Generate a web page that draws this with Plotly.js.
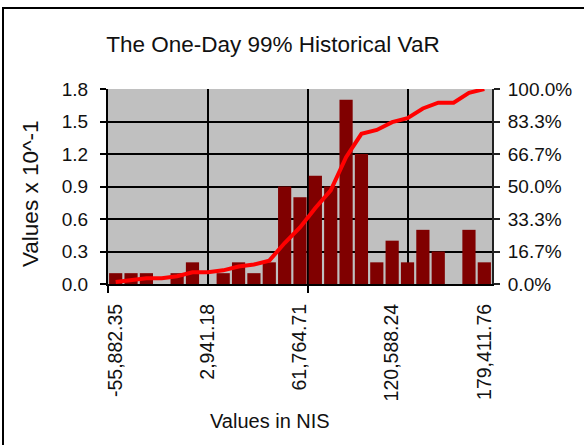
<!DOCTYPE html>
<html>
<head>
<meta charset="utf-8">
<script src="https://cdn.plot.ly/plotly-3.0.1.min.js"></script>
<style>
html,body{margin:0;padding:0;overflow:hidden;background:#fff;}
#wrap{position:relative;width:584px;height:445px;}
#chart{position:absolute;left:0;top:0;width:584px;height:445px;}
#frame{position:absolute;left:2px;top:7px;width:700px;height:600px;border-left:2px solid #000;border-top:2px solid #000;pointer-events:none;}
</style>
</head>
<body>
<div id="wrap"><div id="chart"></div><div id="frame"></div></div>
<script>
// Histogram bins (upper bin values, NIS) – 25 bins
const binLabels = ["-55,882.35","-46,078.43","-36,274.51","-26,470.59","-16,666.67","-6,862.75",
  "2,941.18","12,745.10","22,549.02","32,352.94","42,156.86","51,960.78",
  "61,764.71","71,568.63","81,372.55","91,176.47","100,980.39","110,784.31",
  "120,588.24","130,392.16","140,196.08","150,000.00","159,803.92","169,607.84","179,411.76"];
// Frequencies (Values x 10^-1)
const freq = [0.1,0.1,0.1,0.0,0.1,0.2,0.0,0.1,0.2,0.1,0.2,0.9,0.8,1.0,0.9,1.7,1.2,0.2,0.4,0.2,0.5,0.3,0.0,0.5,0.2];
// Cumulative percentage
const cumPct = [0.01,0.02,0.03,0.03,0.04,0.06,0.06,0.07,0.09,0.10,0.12,0.21,0.29,0.39,0.48,0.65,0.77,0.79,0.83,0.85,0.90,0.93,0.93,0.98,1.00];
// Labelled bins
const shownTicks = [0,6,12,18,24];

const idx = binLabels.map((_, i) => i);
const font = "'Liberation Sans', Arial, sans-serif";
const txt = '#111';

const traces = [
  {type:'bar', x: idx, y: freq, marker:{color:'#800000'}, xaxis:'x', yaxis:'y', hoverinfo:'none'},
  {type:'scatter', mode:'lines', x: idx, y: cumPct, line:{color:'#ff0000', width:4}, xaxis:'x2', yaxis:'y2', hoverinfo:'none'}
];

const layout = {
  width:584, height:445,
  margin:{l:108, r:92, t:89, b:161},
  paper_bgcolor:'#ffffff', plot_bgcolor:'#c0c0c0',
  showlegend:false, bargap:0.14,
  font:{family:font, color:txt, size:19},
  title:{text:'The One-Day 99% Historical VaR', x:273/584, xref:'container', xanchor:'center', y:1-44/445, yref:'container', yanchor:'middle', font:{size:22.5, family:font, color:txt}},
  xaxis:{range:[-0.5,24.5], tickmode:'array', tickvals: shownTicks.map(i=>idx[i]), ticktext: shownTicks.map(i=>binLabels[i]),
    tickangle:-90, ticks:'', showgrid:false, zeroline:false, showline:true, linecolor:'#000', linewidth:2,
    ticklabelstandoff:10, tickfont:{size:19.5}},
  xaxis2:{overlaying:'x', range:[-0.5,24.5], tickmode:'array', tickvals:[-0.5,12.5], showticklabels:false,
    ticks:'outside', ticklen:8, tickcolor:'#000', tickwidth:2, showgrid:true, gridcolor:'#000', gridwidth:2, zeroline:false,
    minor:{tickmode:'array', tickvals:[6,19], showgrid:true, gridcolor:'#000', gridwidth:2, ticks:''}},
  yaxis:{range:[0,1.8], tickmode:'linear', tick0:0, dtick:0.3, tickformat:'.1f', showgrid:true, gridcolor:'#000', gridwidth:2,
    zeroline:false, showline:true, linecolor:'#000', linewidth:2, ticks:'outside', ticklen:6, tickwidth:2, tickcolor:'#000', ticklabelstandoff:8},
  yaxis2:{overlaying:'y', side:'right', range:[0,1], tickmode:'linear', tick0:0, dtick:1/6, tickformat:'.1%', showgrid:false,
    zeroline:false, showline:true, linecolor:'#222', linewidth:2, ticks:'outside', ticklen:6, tickwidth:2, tickcolor:'#222', ticklabelstandoff:4},
  annotations:[
    {text:'Values x 10^-1', textangle:-90, xref:'paper', yref:'paper', x:-78/384, y:(284-194)/195, xanchor:'center', yanchor:'middle', showarrow:false, font:{size:22.5, family:font, color:txt}},
    {text:'Values in NIS', xref:'paper', yref:'paper', x:(270-108)/384, y:-(421-284)/195, xanchor:'center', yanchor:'middle', showarrow:false, font:{size:20, family:font, color:txt}}
  ]
};

Plotly.newPlot('chart', traces, layout, {staticPlot:true, displayModeBar:false});
</script>
</body>
</html>
